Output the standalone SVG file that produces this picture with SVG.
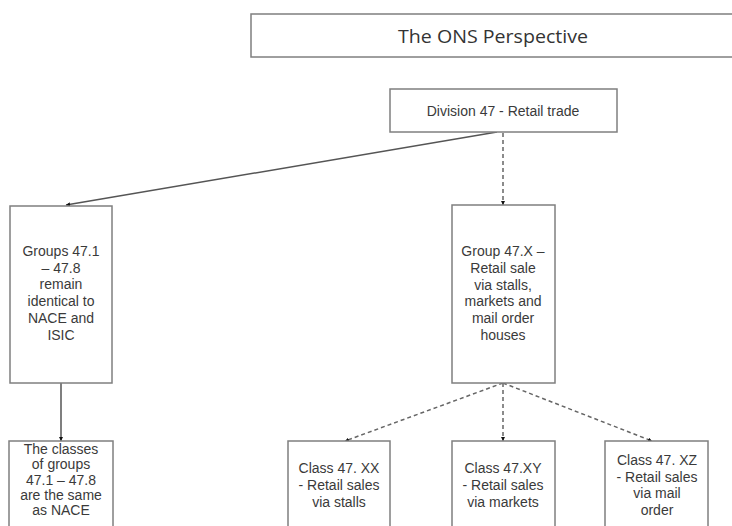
<svg xmlns="http://www.w3.org/2000/svg" width="732" height="526" viewBox="0 0 732 526">
<style>
.box{fill:#fff;stroke:#7f7f7f;stroke-width:1.5}
.t{font-family:"Liberation Sans",Arial,sans-serif;font-size:14px;fill:#3a3a3a;text-anchor:middle}
.title{font-family:"Open Sans","Noto Sans",sans-serif;font-size:19px;fill:#333;text-anchor:middle}
.solid{stroke:#555;stroke-width:1.5;fill:none}
.dash{stroke:#666;stroke-width:1.5;fill:none;stroke-dasharray:4 3}
</style>
<defs>
<marker id="ah" viewBox="0 0 10 10" refX="10" refY="5" markerWidth="4" markerHeight="4" orient="auto" markerUnits="userSpaceOnUse">
<path d="M0,0 L10,5 L0,10 z" fill="#111"/>
</marker>
</defs>
<rect width="732" height="526" fill="#fff"/>
<g id="connectors">
<line class="solid" x1="497" y1="132" x2="66" y2="205" marker-end="url(#ah)"/>
<line class="dash" x1="503" y1="133" x2="503" y2="205" marker-end="url(#ah)"/>
<line class="solid" x1="61" y1="383" x2="61" y2="441" marker-end="url(#ah)"/>
<line class="dash" x1="503" y1="383" x2="345" y2="441" marker-end="url(#ah)"/>
<line class="dash" x1="503" y1="383" x2="503" y2="441" marker-end="url(#ah)"/>
<line class="dash" x1="503" y1="383" x2="652" y2="441" marker-end="url(#ah)"/>
</g>
<g id="title">
<rect class="box" x="251" y="14" width="500" height="43"/>
<text class="title" x="493" y="43" textLength="190" lengthAdjust="spacingAndGlyphs">The ONS Perspective</text>
</g>
<g id="division">
<rect class="box" x="390" y="89" width="227" height="43"/>
<text class="t" x="503" y="116">Division 47 - Retail trade</text>
</g>
<g id="groups">
<rect class="box" x="10" y="206" width="102" height="177"/>
<text class="t" x="61" y="256">Groups 47.1<tspan x="61" dy="16.7">– 47.8</tspan><tspan x="61" dy="16.7">remain</tspan><tspan x="61" dy="16.7">identical to</tspan><tspan x="61" dy="16.7">NACE and</tspan><tspan x="61" dy="16.7">ISIC</tspan></text>
</g>
<g id="groupX">
<rect class="box" x="452" y="205" width="103" height="178"/>
<text class="t" x="503" y="256">Group 47.X –<tspan x="503" dy="16.8">Retail sale</tspan><tspan x="503" dy="16.8">via stalls,</tspan><tspan x="503" dy="16.8">markets and</tspan><tspan x="503" dy="16.8">mail order</tspan><tspan x="503" dy="16.8">houses</tspan></text>
</g>
<g id="classes">
<rect class="box" x="9" y="441" width="104" height="100"/>
<text class="t" x="61" y="454">The classes<tspan x="61" dy="15.3">of groups</tspan><tspan x="61" dy="15.3">47.1 – 47.8</tspan><tspan x="61" dy="15.3">are the same</tspan><tspan x="61" dy="15.3">as NACE</tspan></text>
</g>
<g id="classXX">
<rect class="box" x="288" y="441" width="102" height="100"/>
<text class="t" x="339" y="473">Class 47. XX<tspan x="339" dy="17">- Retail sales</tspan><tspan x="339" dy="17">via stalls</tspan></text>
</g>
<g id="classXY">
<rect class="box" x="452" y="441" width="103" height="100"/>
<text class="t" x="503" y="473">Class 47.XY<tspan x="503" dy="17">- Retail sales</tspan><tspan x="503" dy="17">via markets</tspan></text>
</g>
<g id="classXZ">
<rect class="box" x="605" y="441" width="103" height="100"/>
<text class="t" x="657" y="465">Class 47. XZ<tspan x="657" dy="16.7">- Retail sales</tspan><tspan x="657" dy="16.7">via mail</tspan><tspan x="657" dy="16.7">order</tspan></text>
</g>
</svg>
